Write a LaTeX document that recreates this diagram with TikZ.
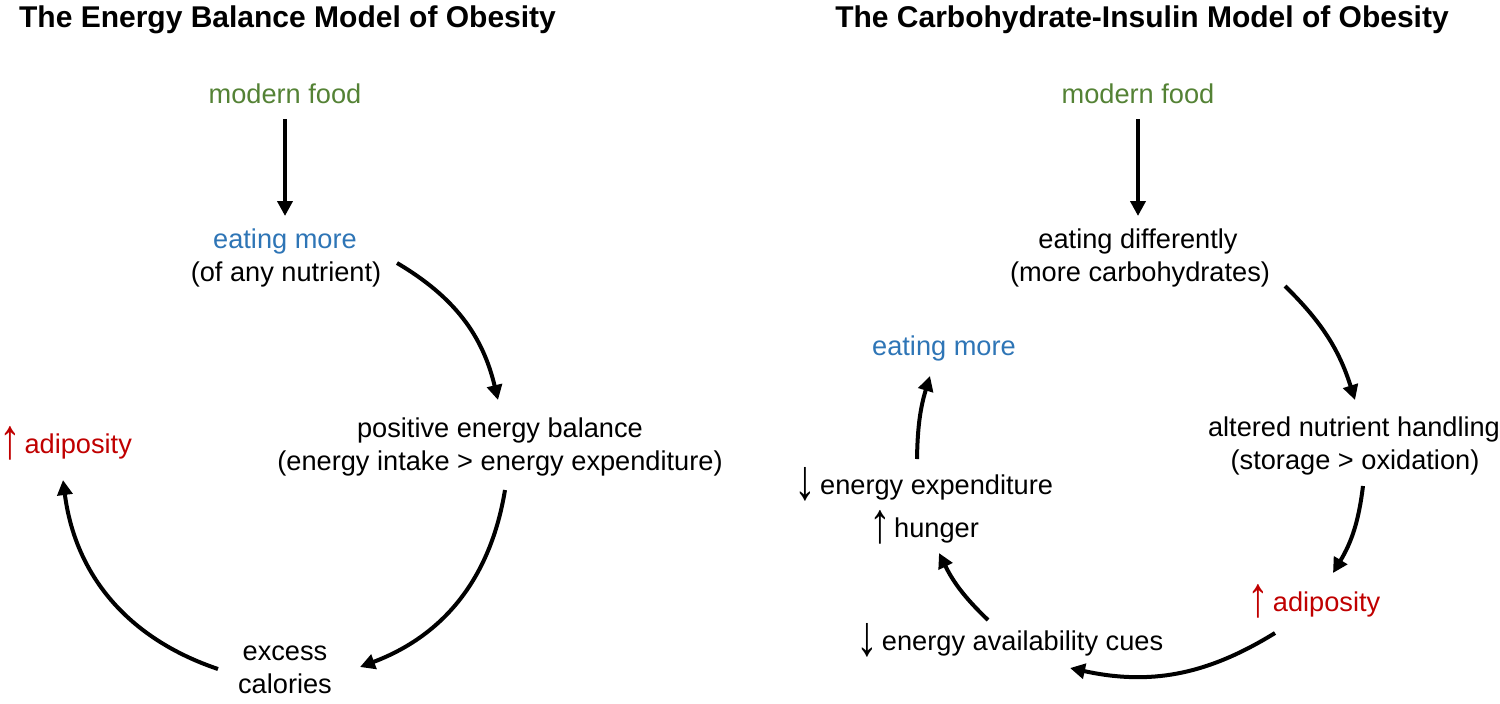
\documentclass[tikz,border=0pt]{standalone}
\usepackage{graphicx}
\usepackage{fontspec}
\setmainfont{Liberation Sans}
\usetikzlibrary{arrows.meta,calc}
\definecolor{fgreen}{HTML}{548235}
\definecolor{fblue}{HTML}{2E75B6}
\definecolor{fred}{HTML}{C00000}
\newcommand{\myup}{\makebox[0.5em][c]{\raisebox{-0.25em}{\resizebox{1.6\width}{1.24em}{\raisebox{\depth}{↑}}}}}
\newcommand{\mydown}{\makebox[0.5em][c]{\raisebox{-0.25em}{\resizebox{1.6\width}{1.24em}{\raisebox{\depth}{↓}}}}}
\tikzset{
  lbl/.style={inner sep=0pt, anchor=base, font=\fontsize{13.6}{16}\selectfont},
  ttl/.style={inner sep=0pt, anchor=base, font=\fontsize{15}{18}\selectfont\bfseries},
  arr/.style={line width=2pt, -{Triangle[length=7.5pt,width=7.5pt]}},
}
\begin{document}
\begin{tikzpicture}[x=0.5pt,y=-0.5pt]
\useasboundingbox (0,0) rectangle (1500,703);
% ---------- left panel ----------
\node[ttl] (ltitle) at (287.5,27) {The Energy Balance Model of Obesity};
\node[lbl,text=fgreen] (lfood) at (285,103) {modern food};
\node[lbl,text=fblue] (leat) at (285,248) {eating more};
\node[lbl] (leatsub) at (286,281) {(of any nutrient)};
\node[lbl] (lpeb) at (500,437) {positive energy balance};
\node[lbl] (lpebsub) at (500,470) {(energy intake > energy expenditure)};
\node[lbl] (lexc) at (285,660) {excess};
\node[lbl] (lcal) at (285,693) {calories};
\node[lbl,anchor=base west,text=fred] (ladip) at (3,453) {\myup\ adiposity};

\draw[arr] ($(lfood.base)+(0,16)$) -- ($(leat.base)+(0,-32)$);
\draw[arr] ($(leatsub.base)+(111,-18)$) to[bend left=23] ($(lpeb.base)+(-2,-37)$);
\draw[arr] ($(lpebsub.base)+(5,20)$) to[bend left=30] ($(lexc.base)+(75,7)$);
\draw[arr] ($(lcal.base)+(-67,-24)$) to[bend left=32] ($(ladip.base west)+(60,27)$);

% ---------- right panel ----------
\node[ttl] (rtitle) at (1142,27) {The Carbohydrate-Insulin Model of Obesity};
\node[lbl,text=fgreen] (rfood) at (1138,103) {modern food};
\node[lbl] (reat) at (1138,248) {eating differently};
\node[lbl] (reatsub) at (1140,281) {(more carbohydrates)};
\node[lbl] (ralt) at (1354,436) {altered nutrient handling};
\node[lbl] (raltsub) at (1355,469) {(storage > oxidation)};
\node[lbl,text=fred] (radip) at (1316,611) {\myup\ adiposity};
\node[lbl] (rcues) at (1012,650) {\mydown\ energy availability cues};
\node[lbl] (rhun) at (926,537) {\myup\ hunger};
\node[lbl] (rexp) at (926,494) {\mydown\ energy expenditure};
\node[lbl,text=fblue] (rmore) at (944,355) {eating more};

\draw[arr] ($(rfood.base)+(0,16)$) -- ($(reat.base)+(0,-32)$);
\draw[arr] ($(reatsub.base)+(145,5)$) to[bend left=14] ($(ralt.base)+(1,-36)$);
\draw[arr] ($(raltsub.base)+(8,17)$) to[bend left=12] ($(radip.base)+(17,-38)$);
\draw[arr] ($(radip.base)+(-41,22)$) to[bend left=22] ($(rcues.base)+(58,18)$);
\draw[arr] ($(rcues.base)+(-24,-30)$) to[bend left=10] ($(rhun.base)+(13,16)$);
\draw[arr] ($(rexp.base)+(-9,-35)$) to[bend left=8] ($(rmore.base)+(-14,21)$);
\end{tikzpicture}
\end{document}
